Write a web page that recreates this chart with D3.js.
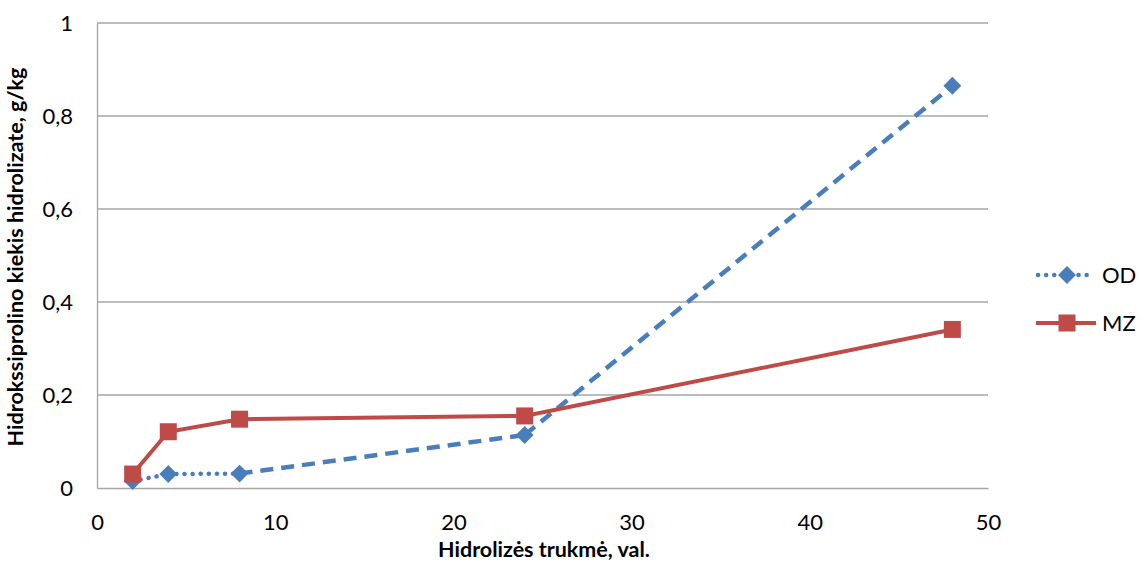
<!DOCTYPE html>
<html><head><meta charset="utf-8">
<script src="https://cdn.jsdelivr.net/npm/d3@7"></script>
<style>body{margin:0;background:#fff}svg{display:block}text{font-family:Lato,"Open Sans",sans-serif}</style>
</head><body><svg id="c" width="1142" height="569"></svg>
<script>
const hours = [2, 4, 8, 24, 48];
const odValues = [0.015, 0.03, 0.031, 0.114, 0.865];
const mzValues = [0.03, 0.121, 0.148, 0.155, 0.341];
const odSegmentStyle = ["dot", "dot", "dash", "dash"];
const xTicks = [0, 10, 20, 30, 40, 50];
const yTicks = [0, 0.2, 0.4, 0.6, 0.8, 1];
const seriesNames = ["OD", "MZ"];
const xTitle = "Hidrolizės trukmė, val.";
const yTitle = "Hidrokssiprolino kiekis hidrolizate, g/kg";

const svg = d3.select("#c");
const x = d3.scaleLinear().domain([0, 50]).range([97, 988]);
const y = d3.scaleLinear().domain([0, 1]).range([488, 23]);
const blue = "#4a7ebb", red = "#be4b48";
const fmt = v => String(v).replace(".", ",");

// gridlines
svg.append("g").selectAll("line").data(yTicks.filter(d => d > 0)).join("line")
  .attr("x1", x(0)).attr("x2", x(50)).attr("y1", d => y(d)).attr("y2", d => y(d))
  .attr("stroke", "#a6a6a6").attr("stroke-width", 1.3);

// axes
const xAxis = d3.axisBottom(x).tickValues(xTicks).tickSize(0).tickPadding(26).tickFormat(fmt);
const gx = svg.append("g").attr("transform", `translate(0,${y(0)})`).call(xAxis);
gx.select(".domain").attr("stroke", "#a6a6a6").attr("stroke-width", 1.3);
gx.selectAll("text").attr("font-size", 22).attr("fill", "#000").attr("font-family", "Lato");

const yAxis = d3.axisLeft(y).tickValues(yTicks).tickSize(0).tickPadding(24).tickFormat(fmt);
const gy = svg.append("g").attr("transform", `translate(${x(0)},0)`).call(yAxis);
gy.select(".domain").attr("stroke", "#a6a6a6").attr("stroke-width", 1.3);
gy.selectAll("text").attr("font-size", 22).attr("fill", "#000").attr("font-family", "Lato");

// axis titles (font size fitted to the reference text length)
function fitText(t, target) {
  t.attr("font-size", 16);
  const len = t.node().getComputedTextLength();
  t.attr("font-size", 16 * target / len);
}
const xt = svg.append("text").attr("x", 544).attr("y", 557).attr("text-anchor", "middle")
  .attr("font-weight", "bold").text(xTitle);
fitText(xt, 212);
const yt = svg.append("text").attr("transform", "translate(23,257) rotate(-90)").attr("text-anchor", "middle")
  .attr("font-weight", "bold").text(yTitle);
fitText(yt, 379);

const dashFor = s => s === "dot" ? "0.1 8" : "13 8";
const capFor = s => s === "dot" ? "round" : "butt";

// OD segments
const odPts = hours.map((h, i) => [x(h), y(odValues[i])]);
svg.append("g").selectAll("line").data(odSegmentStyle).join("line")
  .attr("x1", (d, i) => odPts[i][0]).attr("y1", (d, i) => odPts[i][1])
  .attr("x2", (d, i) => odPts[i + 1][0]).attr("y2", (d, i) => odPts[i + 1][1])
  .attr("stroke", blue).attr("stroke-width", 4.5)
  .attr("stroke-dasharray", d => dashFor(d)).attr("stroke-linecap", d => capFor(d));

// OD markers (square rotated 45°)
const diamond = d3.symbol().type(d3.symbolSquare).size(160);
svg.append("g").selectAll("path").data(odPts).join("path")
  .attr("d", diamond).attr("transform", d => `translate(${d[0]},${d[1]}) rotate(45)`)
  .attr("fill", blue);

// MZ line
const line = d3.line().x((d, i) => x(hours[i])).y(d => y(d));
svg.append("path").datum(mzValues).attr("d", line).attr("fill", "none")
  .attr("stroke", red).attr("stroke-width", 4);
svg.append("g").selectAll("rect").data(mzValues).join("rect")
  .attr("x", (d, i) => x(hours[i]) - 8.5).attr("y", d => y(d) - 8.5)
  .attr("width", 17).attr("height", 17).attr("fill", red);

// legend
const lg = svg.append("g");
const ly = [275, 323];
lg.append("line").attr("x1", 1038).attr("x2", 1094).attr("y1", ly[0]).attr("y2", ly[0])
  .attr("stroke", blue).attr("stroke-width", 4.5).attr("stroke-dasharray", "0.1 8").attr("stroke-linecap", "round");
lg.append("path").attr("d", diamond).attr("transform", `translate(1067,${ly[0]}) rotate(45)`).attr("fill", blue);
lg.append("line").attr("x1", 1036).attr("x2", 1096).attr("y1", ly[1]).attr("y2", ly[1])
  .attr("stroke", red).attr("stroke-width", 4);
lg.append("rect").attr("x", 1067 - 8.5).attr("y", ly[1] - 8.5).attr("width", 17).attr("height", 17).attr("fill", red);
lg.selectAll("text.l").data(seriesNames).join("text").attr("class", "l")
  .attr("x", 1102).attr("y", (d, i) => ly[i] + 8).attr("font-size", 22).text(d => d);
</script></body></html>
